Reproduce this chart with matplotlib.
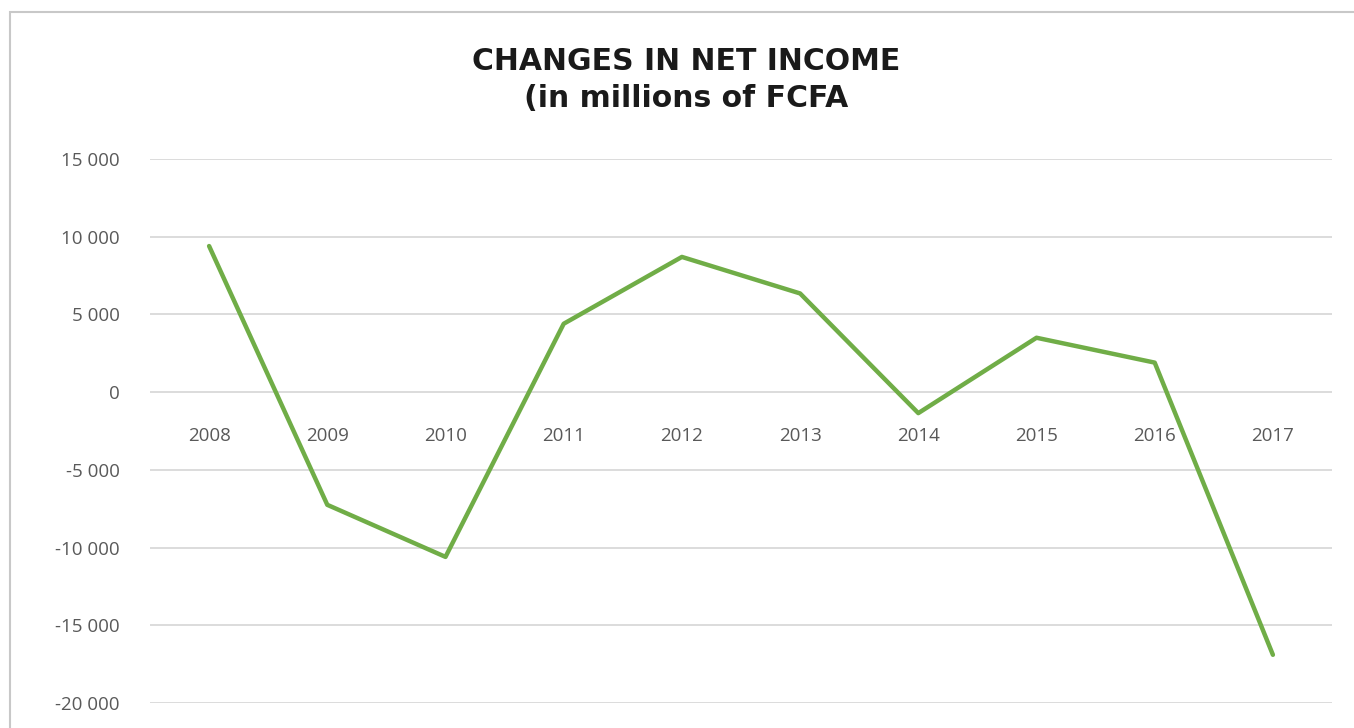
import matplotlib.pyplot as plt
from matplotlib.patches import Rectangle
from matplotlib.ticker import FuncFormatter, MultipleLocator

years = ['2008', '2009', '2010', '2011', '2012', '2013', '2014', '2015', '2016', '2017']
net_income = [9400, -7250, -10600, 4400, 8700, 6350, -1350, 3500, 1900, -16900]


def fmt_thousands(v, pos):
    s = '{:,.0f}'.format(v).replace(',', ' ')
    return s


fig = plt.figure(figsize=(13.54, 7.28), dpi=100)
ax = fig.add_axes([150 / 1354, 1 - 703 / 728, 1182 / 1354, 544 / 728])

x = list(range(len(years)))
ax.plot(x, net_income, color='#70AD47', linewidth=3.2, solid_capstyle='round',
        solid_joinstyle='round', zorder=3)

ax.set_xlim(-0.5, len(years) - 0.5)
ax.set_ylim(-20000, 15000)
ax.yaxis.set_major_locator(MultipleLocator(5000))
ax.yaxis.set_major_formatter(FuncFormatter(fmt_thousands))
ax.grid(axis='y', color='#D9D9D9', linewidth=1.3, zorder=0)
ax.set_axisbelow(True)
for s in ax.spines.values():
    s.set_visible(False)
ax.tick_params(axis='y', length=0, pad=22, labelsize=13.5, labelcolor='#595959')
ax.set_xticks([])
for lab in ax.get_yticklabels():
    lab.set_fontfamily('Open Sans')

# category labels sit just under the zero line
for i, yr in enumerate(years):
    ax.annotate(yr, xy=(i, 0), xytext=(0, -31.5), textcoords='offset points',
                ha='center', va='center', fontsize=13.5, color='#595959',
                family='Open Sans')

fig.text(0.507, 1 - 80 / 728, 'CHANGES IN NET INCOME\n(in millions of FCFA',
         ha='center', va='center', fontsize=21.5, fontweight='bold',
         family='DejaVu Sans', color='#1a1a1a', linespacing=1.35)

# chart border
fig.patches.append(Rectangle((10 / 1354, -0.1), 1.2, 1 - 12 / 728 + 0.1,
                             transform=fig.transFigure, fill=False,
                             edgecolor='#C8C8C8', linewidth=1.5))

fig.savefig('out.png', dpi=100)
